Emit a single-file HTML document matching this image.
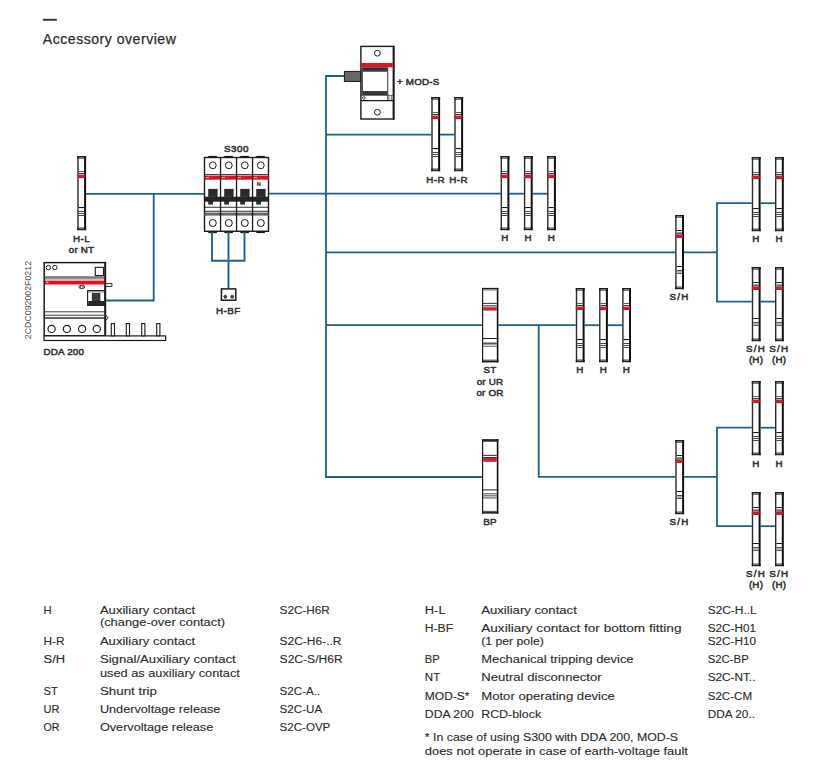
<!DOCTYPE html>
<html><head><meta charset="utf-8"><style>
html,body{margin:0;padding:0;background:#fff;width:816px;height:772px;overflow:hidden}
svg{position:absolute;left:0;top:0;font-family:"Liberation Sans",sans-serif}
</style></head><body>
<svg width="816" height="772" viewBox="0 0 816 772">
<rect x="42.8" y="18.8" width="14" height="1.9" fill="#333"/>
<text x="42.8" y="43.9" font-size="14.1" letter-spacing="0.5" fill="#2d2d2d" stroke="#2d2d2d" stroke-width="0.25">Accessory overview</text>
<text transform="translate(31.3,339.2) rotate(-90)" font-size="8.8" fill="#4a4a4a">2CDC092002F0212</text>
<path d="M85,193.8 L205,193.8" fill="none" stroke="#1f5f8f" stroke-width="1.8" stroke-linejoin="miter" stroke-linecap="butt"/>
<path d="M153.7,193.8 L153.7,300.5 L105,300.5" fill="none" stroke="#1f5f8f" stroke-width="1.8" stroke-linejoin="miter" stroke-linecap="butt"/>
<path d="M268,193.7 L501,193.7" fill="none" stroke="#1f5f8f" stroke-width="1.8" stroke-linejoin="miter" stroke-linecap="butt"/>
<path d="M509,193.7 L524,193.7" fill="none" stroke="#1f5f8f" stroke-width="1.8" stroke-linejoin="miter" stroke-linecap="butt"/>
<path d="M532,193.7 L547,193.7" fill="none" stroke="#1f5f8f" stroke-width="1.8" stroke-linejoin="miter" stroke-linecap="butt"/>
<path d="M344.5,76 L326,76 L326,477 L482.5,477" fill="none" stroke="#1f5f8f" stroke-width="1.8" stroke-linejoin="miter" stroke-linecap="butt"/>
<path d="M326,134.6 L432,134.6" fill="none" stroke="#1f5f8f" stroke-width="1.8" stroke-linejoin="miter" stroke-linecap="butt"/>
<path d="M439,134.6 L455,134.6" fill="none" stroke="#1f5f8f" stroke-width="1.8" stroke-linejoin="miter" stroke-linecap="butt"/>
<path d="M326,252.3 L676,252.3" fill="none" stroke="#1f5f8f" stroke-width="1.8" stroke-linejoin="miter" stroke-linecap="butt"/>
<path d="M683,252.3 L717,252.3" fill="none" stroke="#1f5f8f" stroke-width="1.8" stroke-linejoin="miter" stroke-linecap="butt"/>
<path d="M752.5,203.2 L717,203.2 L717,301.6 L752.5,301.6" fill="none" stroke="#1f5f8f" stroke-width="1.8" stroke-linejoin="miter" stroke-linecap="butt"/>
<path d="M760,203.2 L776,203.2" fill="none" stroke="#1f5f8f" stroke-width="1.8" stroke-linejoin="miter" stroke-linecap="butt"/>
<path d="M760,301.6 L776,301.6" fill="none" stroke="#1f5f8f" stroke-width="1.8" stroke-linejoin="miter" stroke-linecap="butt"/>
<path d="M326,325.2 L482.5,325.2" fill="none" stroke="#1f5f8f" stroke-width="1.8" stroke-linejoin="miter" stroke-linecap="butt"/>
<path d="M497.5,325.2 L576.5,325.2" fill="none" stroke="#1f5f8f" stroke-width="1.8" stroke-linejoin="miter" stroke-linecap="butt"/>
<path d="M584,325.2 L600,325.2" fill="none" stroke="#1f5f8f" stroke-width="1.8" stroke-linejoin="miter" stroke-linecap="butt"/>
<path d="M607,325.2 L623,325.2" fill="none" stroke="#1f5f8f" stroke-width="1.8" stroke-linejoin="miter" stroke-linecap="butt"/>
<path d="M538.7,325.2 L538.7,476.8 L676,476.8" fill="none" stroke="#1f5f8f" stroke-width="1.8" stroke-linejoin="miter" stroke-linecap="butt"/>
<path d="M683,476.8 L717,476.8" fill="none" stroke="#1f5f8f" stroke-width="1.8" stroke-linejoin="miter" stroke-linecap="butt"/>
<path d="M752.5,427.7 L717,427.7 L717,526.2 L752.5,526.2" fill="none" stroke="#1f5f8f" stroke-width="1.8" stroke-linejoin="miter" stroke-linecap="butt"/>
<path d="M760,427.7 L776,427.7" fill="none" stroke="#1f5f8f" stroke-width="1.8" stroke-linejoin="miter" stroke-linecap="butt"/>
<path d="M760,526.2 L776,526.2" fill="none" stroke="#1f5f8f" stroke-width="1.8" stroke-linejoin="miter" stroke-linecap="butt"/>
<g transform="translate(77.3,156)"><rect x="0" y="0" width="8.8" height="74.2" fill="#fff"/><rect x="0" y="0" width="1.4" height="74.2" fill="#2a2a2a"/><rect x="6.800000000000001" y="0" width="2" height="74.2" fill="#111"/><rect x="0" y="0" width="8.8" height="2.6" fill="#1a1a1a"/><rect x="1.4" y="1.1" width="5.4" height="0.9" fill="#8a8a8a"/><rect x="1.4" y="15" width="5.4" height="1" fill="#5a5a5a"/><rect x="1.4" y="17" width="5.4" height="1" fill="#333"/><rect x="0" y="18.6" width="7.800000000000001" height="3.6" fill="#c41c30"/><rect x="1.4" y="51" width="5.4" height="1.1" fill="#151515"/><rect x="1.4" y="55" width="5.4" height="0.95" fill="#3a3a3a"/><rect x="1.4" y="57" width="5.4" height="0.95" fill="#3a3a3a"/><rect x="1.4" y="59" width="5.4" height="0.95" fill="#3a3a3a"/><rect x="0" y="71.60000000000001" width="8.8" height="2.6" fill="#1a1a1a"/><rect x="1.4" y="72.2" width="5.4" height="0.9" fill="#8a8a8a"/></g>
<g transform="translate(431.3,97)"><rect x="0" y="0" width="8.8" height="74.2" fill="#fff"/><rect x="0" y="0" width="1.4" height="74.2" fill="#2a2a2a"/><rect x="6.800000000000001" y="0" width="2" height="74.2" fill="#111"/><rect x="0" y="0" width="8.8" height="2.6" fill="#1a1a1a"/><rect x="1.4" y="1.1" width="5.4" height="0.9" fill="#8a8a8a"/><rect x="1.4" y="15" width="5.4" height="1" fill="#5a5a5a"/><rect x="1.4" y="17" width="5.4" height="1" fill="#333"/><rect x="0" y="18.6" width="7.800000000000001" height="3.6" fill="#c41c30"/><rect x="1.4" y="51" width="5.4" height="1.1" fill="#151515"/><rect x="1.4" y="55" width="5.4" height="0.95" fill="#3a3a3a"/><rect x="1.4" y="57" width="5.4" height="0.95" fill="#3a3a3a"/><rect x="1.4" y="59" width="5.4" height="0.95" fill="#3a3a3a"/><rect x="0" y="71.60000000000001" width="8.8" height="2.6" fill="#1a1a1a"/><rect x="1.4" y="72.2" width="5.4" height="0.9" fill="#8a8a8a"/></g>
<g transform="translate(454.3,97)"><rect x="0" y="0" width="8.8" height="74.2" fill="#fff"/><rect x="0" y="0" width="1.4" height="74.2" fill="#2a2a2a"/><rect x="6.800000000000001" y="0" width="2" height="74.2" fill="#111"/><rect x="0" y="0" width="8.8" height="2.6" fill="#1a1a1a"/><rect x="1.4" y="1.1" width="5.4" height="0.9" fill="#8a8a8a"/><rect x="1.4" y="15" width="5.4" height="1" fill="#5a5a5a"/><rect x="1.4" y="17" width="5.4" height="1" fill="#333"/><rect x="0" y="18.6" width="7.800000000000001" height="3.6" fill="#c41c30"/><rect x="1.4" y="51" width="5.4" height="1.1" fill="#151515"/><rect x="1.4" y="55" width="5.4" height="0.95" fill="#3a3a3a"/><rect x="1.4" y="57" width="5.4" height="0.95" fill="#3a3a3a"/><rect x="1.4" y="59" width="5.4" height="0.95" fill="#3a3a3a"/><rect x="0" y="71.60000000000001" width="8.8" height="2.6" fill="#1a1a1a"/><rect x="1.4" y="72.2" width="5.4" height="0.9" fill="#8a8a8a"/></g>
<g transform="translate(500.6,156)"><rect x="0" y="0" width="8.8" height="74.2" fill="#fff"/><rect x="0" y="0" width="1.4" height="74.2" fill="#2a2a2a"/><rect x="6.800000000000001" y="0" width="2" height="74.2" fill="#111"/><rect x="0" y="0" width="8.8" height="2.6" fill="#1a1a1a"/><rect x="1.4" y="1.1" width="5.4" height="0.9" fill="#8a8a8a"/><rect x="1.4" y="15" width="5.4" height="1" fill="#5a5a5a"/><rect x="1.4" y="17" width="5.4" height="1" fill="#333"/><rect x="0" y="18.6" width="7.800000000000001" height="3.6" fill="#c41c30"/><rect x="1.4" y="51" width="5.4" height="1.1" fill="#151515"/><rect x="1.4" y="55" width="5.4" height="0.95" fill="#3a3a3a"/><rect x="1.4" y="57" width="5.4" height="0.95" fill="#3a3a3a"/><rect x="1.4" y="59" width="5.4" height="0.95" fill="#3a3a3a"/><rect x="0" y="71.60000000000001" width="8.8" height="2.6" fill="#1a1a1a"/><rect x="1.4" y="72.2" width="5.4" height="0.9" fill="#8a8a8a"/></g>
<g transform="translate(523.9,156)"><rect x="0" y="0" width="8.8" height="74.2" fill="#fff"/><rect x="0" y="0" width="1.4" height="74.2" fill="#2a2a2a"/><rect x="6.800000000000001" y="0" width="2" height="74.2" fill="#111"/><rect x="0" y="0" width="8.8" height="2.6" fill="#1a1a1a"/><rect x="1.4" y="1.1" width="5.4" height="0.9" fill="#8a8a8a"/><rect x="1.4" y="15" width="5.4" height="1" fill="#5a5a5a"/><rect x="1.4" y="17" width="5.4" height="1" fill="#333"/><rect x="0" y="18.6" width="7.800000000000001" height="3.6" fill="#c41c30"/><rect x="1.4" y="51" width="5.4" height="1.1" fill="#151515"/><rect x="1.4" y="55" width="5.4" height="0.95" fill="#3a3a3a"/><rect x="1.4" y="57" width="5.4" height="0.95" fill="#3a3a3a"/><rect x="1.4" y="59" width="5.4" height="0.95" fill="#3a3a3a"/><rect x="0" y="71.60000000000001" width="8.8" height="2.6" fill="#1a1a1a"/><rect x="1.4" y="72.2" width="5.4" height="0.9" fill="#8a8a8a"/></g>
<g transform="translate(547.1,156)"><rect x="0" y="0" width="8.8" height="74.2" fill="#fff"/><rect x="0" y="0" width="1.4" height="74.2" fill="#2a2a2a"/><rect x="6.800000000000001" y="0" width="2" height="74.2" fill="#111"/><rect x="0" y="0" width="8.8" height="2.6" fill="#1a1a1a"/><rect x="1.4" y="1.1" width="5.4" height="0.9" fill="#8a8a8a"/><rect x="1.4" y="15" width="5.4" height="1" fill="#5a5a5a"/><rect x="1.4" y="17" width="5.4" height="1" fill="#333"/><rect x="0" y="18.6" width="7.800000000000001" height="3.6" fill="#c41c30"/><rect x="1.4" y="51" width="5.4" height="1.1" fill="#151515"/><rect x="1.4" y="55" width="5.4" height="0.95" fill="#3a3a3a"/><rect x="1.4" y="57" width="5.4" height="0.95" fill="#3a3a3a"/><rect x="1.4" y="59" width="5.4" height="0.95" fill="#3a3a3a"/><rect x="0" y="71.60000000000001" width="8.8" height="2.6" fill="#1a1a1a"/><rect x="1.4" y="72.2" width="5.4" height="0.9" fill="#8a8a8a"/></g>
<g transform="translate(675.2,215)"><rect x="0" y="0" width="8.8" height="74.2" fill="#fff"/><rect x="0" y="0" width="1.4" height="74.2" fill="#2a2a2a"/><rect x="6.800000000000001" y="0" width="2" height="74.2" fill="#111"/><rect x="0" y="0" width="8.8" height="2.6" fill="#1a1a1a"/><rect x="1.4" y="1.1" width="5.4" height="0.9" fill="#8a8a8a"/><rect x="1.4" y="15" width="5.4" height="1" fill="#1a1a1a"/><rect x="1.4" y="17" width="5.4" height="1" fill="#999"/><rect x="1.4" y="18" width="5.4" height="1.2" fill="#666"/><rect x="0" y="19.4" width="7.800000000000001" height="3.6" fill="#c41c30"/><rect x="1.4" y="51" width="5.4" height="1.0" fill="#151515"/><rect x="1.4" y="55" width="5.4" height="1.4" fill="#4a4a4a"/><rect x="1.4" y="57.6" width="5.4" height="1.4" fill="#5a5a5a"/><rect x="0" y="71.60000000000001" width="8.8" height="2.6" fill="#1a1a1a"/><rect x="1.4" y="72.2" width="5.4" height="0.9" fill="#8a8a8a"/></g>
<g transform="translate(751.8,157)"><rect x="0" y="0" width="8.8" height="74.2" fill="#fff"/><rect x="0" y="0" width="1.4" height="74.2" fill="#2a2a2a"/><rect x="6.800000000000001" y="0" width="2" height="74.2" fill="#111"/><rect x="0" y="0" width="8.8" height="2.6" fill="#1a1a1a"/><rect x="1.4" y="1.1" width="5.4" height="0.9" fill="#8a8a8a"/><rect x="1.4" y="15" width="5.4" height="1" fill="#5a5a5a"/><rect x="1.4" y="17" width="5.4" height="1" fill="#333"/><rect x="0" y="18.6" width="7.800000000000001" height="3.6" fill="#c41c30"/><rect x="1.4" y="51" width="5.4" height="1.1" fill="#151515"/><rect x="1.4" y="55" width="5.4" height="0.95" fill="#3a3a3a"/><rect x="1.4" y="57" width="5.4" height="0.95" fill="#3a3a3a"/><rect x="1.4" y="59" width="5.4" height="0.95" fill="#3a3a3a"/><rect x="0" y="71.60000000000001" width="8.8" height="2.6" fill="#1a1a1a"/><rect x="1.4" y="72.2" width="5.4" height="0.9" fill="#8a8a8a"/></g>
<g transform="translate(751.8,267)"><rect x="0" y="0" width="8.8" height="74.2" fill="#fff"/><rect x="0" y="0" width="1.4" height="74.2" fill="#2a2a2a"/><rect x="6.800000000000001" y="0" width="2" height="74.2" fill="#111"/><rect x="0" y="0" width="8.8" height="2.6" fill="#1a1a1a"/><rect x="1.4" y="1.1" width="5.4" height="0.9" fill="#8a8a8a"/><rect x="1.4" y="15" width="5.4" height="1" fill="#1a1a1a"/><rect x="1.4" y="17" width="5.4" height="1" fill="#999"/><rect x="1.4" y="18" width="5.4" height="1.2" fill="#666"/><rect x="0" y="19.4" width="7.800000000000001" height="3.6" fill="#c41c30"/><rect x="1.4" y="51" width="5.4" height="1.0" fill="#151515"/><rect x="1.4" y="55" width="5.4" height="1.4" fill="#4a4a4a"/><rect x="1.4" y="57.6" width="5.4" height="1.4" fill="#5a5a5a"/><rect x="0" y="71.60000000000001" width="8.8" height="2.6" fill="#1a1a1a"/><rect x="1.4" y="72.2" width="5.4" height="0.9" fill="#8a8a8a"/></g>
<g transform="translate(751.8,381)"><rect x="0" y="0" width="8.8" height="74.2" fill="#fff"/><rect x="0" y="0" width="1.4" height="74.2" fill="#2a2a2a"/><rect x="6.800000000000001" y="0" width="2" height="74.2" fill="#111"/><rect x="0" y="0" width="8.8" height="2.6" fill="#1a1a1a"/><rect x="1.4" y="1.1" width="5.4" height="0.9" fill="#8a8a8a"/><rect x="1.4" y="15" width="5.4" height="1" fill="#5a5a5a"/><rect x="1.4" y="17" width="5.4" height="1" fill="#333"/><rect x="0" y="18.6" width="7.800000000000001" height="3.6" fill="#c41c30"/><rect x="1.4" y="51" width="5.4" height="1.1" fill="#151515"/><rect x="1.4" y="55" width="5.4" height="0.95" fill="#3a3a3a"/><rect x="1.4" y="57" width="5.4" height="0.95" fill="#3a3a3a"/><rect x="1.4" y="59" width="5.4" height="0.95" fill="#3a3a3a"/><rect x="0" y="71.60000000000001" width="8.8" height="2.6" fill="#1a1a1a"/><rect x="1.4" y="72.2" width="5.4" height="0.9" fill="#8a8a8a"/></g>
<g transform="translate(751.8,492)"><rect x="0" y="0" width="8.8" height="74.2" fill="#fff"/><rect x="0" y="0" width="1.4" height="74.2" fill="#2a2a2a"/><rect x="6.800000000000001" y="0" width="2" height="74.2" fill="#111"/><rect x="0" y="0" width="8.8" height="2.6" fill="#1a1a1a"/><rect x="1.4" y="1.1" width="5.4" height="0.9" fill="#8a8a8a"/><rect x="1.4" y="15" width="5.4" height="1" fill="#1a1a1a"/><rect x="1.4" y="17" width="5.4" height="1" fill="#999"/><rect x="1.4" y="18" width="5.4" height="1.2" fill="#666"/><rect x="0" y="19.4" width="7.800000000000001" height="3.6" fill="#c41c30"/><rect x="1.4" y="51" width="5.4" height="1.0" fill="#151515"/><rect x="1.4" y="55" width="5.4" height="1.4" fill="#4a4a4a"/><rect x="1.4" y="57.6" width="5.4" height="1.4" fill="#5a5a5a"/><rect x="0" y="71.60000000000001" width="8.8" height="2.6" fill="#1a1a1a"/><rect x="1.4" y="72.2" width="5.4" height="0.9" fill="#8a8a8a"/></g>
<g transform="translate(775.0,157)"><rect x="0" y="0" width="8.8" height="74.2" fill="#fff"/><rect x="0" y="0" width="1.4" height="74.2" fill="#2a2a2a"/><rect x="6.800000000000001" y="0" width="2" height="74.2" fill="#111"/><rect x="0" y="0" width="8.8" height="2.6" fill="#1a1a1a"/><rect x="1.4" y="1.1" width="5.4" height="0.9" fill="#8a8a8a"/><rect x="1.4" y="15" width="5.4" height="1" fill="#5a5a5a"/><rect x="1.4" y="17" width="5.4" height="1" fill="#333"/><rect x="0" y="18.6" width="7.800000000000001" height="3.6" fill="#c41c30"/><rect x="1.4" y="51" width="5.4" height="1.1" fill="#151515"/><rect x="1.4" y="55" width="5.4" height="0.95" fill="#3a3a3a"/><rect x="1.4" y="57" width="5.4" height="0.95" fill="#3a3a3a"/><rect x="1.4" y="59" width="5.4" height="0.95" fill="#3a3a3a"/><rect x="0" y="71.60000000000001" width="8.8" height="2.6" fill="#1a1a1a"/><rect x="1.4" y="72.2" width="5.4" height="0.9" fill="#8a8a8a"/></g>
<g transform="translate(775.0,267)"><rect x="0" y="0" width="8.8" height="74.2" fill="#fff"/><rect x="0" y="0" width="1.4" height="74.2" fill="#2a2a2a"/><rect x="6.800000000000001" y="0" width="2" height="74.2" fill="#111"/><rect x="0" y="0" width="8.8" height="2.6" fill="#1a1a1a"/><rect x="1.4" y="1.1" width="5.4" height="0.9" fill="#8a8a8a"/><rect x="1.4" y="15" width="5.4" height="1" fill="#1a1a1a"/><rect x="1.4" y="17" width="5.4" height="1" fill="#999"/><rect x="1.4" y="18" width="5.4" height="1.2" fill="#666"/><rect x="0" y="19.4" width="7.800000000000001" height="3.6" fill="#c41c30"/><rect x="1.4" y="51" width="5.4" height="1.0" fill="#151515"/><rect x="1.4" y="55" width="5.4" height="1.4" fill="#4a4a4a"/><rect x="1.4" y="57.6" width="5.4" height="1.4" fill="#5a5a5a"/><rect x="0" y="71.60000000000001" width="8.8" height="2.6" fill="#1a1a1a"/><rect x="1.4" y="72.2" width="5.4" height="0.9" fill="#8a8a8a"/></g>
<g transform="translate(775.0,381)"><rect x="0" y="0" width="8.8" height="74.2" fill="#fff"/><rect x="0" y="0" width="1.4" height="74.2" fill="#2a2a2a"/><rect x="6.800000000000001" y="0" width="2" height="74.2" fill="#111"/><rect x="0" y="0" width="8.8" height="2.6" fill="#1a1a1a"/><rect x="1.4" y="1.1" width="5.4" height="0.9" fill="#8a8a8a"/><rect x="1.4" y="15" width="5.4" height="1" fill="#5a5a5a"/><rect x="1.4" y="17" width="5.4" height="1" fill="#333"/><rect x="0" y="18.6" width="7.800000000000001" height="3.6" fill="#c41c30"/><rect x="1.4" y="51" width="5.4" height="1.1" fill="#151515"/><rect x="1.4" y="55" width="5.4" height="0.95" fill="#3a3a3a"/><rect x="1.4" y="57" width="5.4" height="0.95" fill="#3a3a3a"/><rect x="1.4" y="59" width="5.4" height="0.95" fill="#3a3a3a"/><rect x="0" y="71.60000000000001" width="8.8" height="2.6" fill="#1a1a1a"/><rect x="1.4" y="72.2" width="5.4" height="0.9" fill="#8a8a8a"/></g>
<g transform="translate(775.0,492)"><rect x="0" y="0" width="8.8" height="74.2" fill="#fff"/><rect x="0" y="0" width="1.4" height="74.2" fill="#2a2a2a"/><rect x="6.800000000000001" y="0" width="2" height="74.2" fill="#111"/><rect x="0" y="0" width="8.8" height="2.6" fill="#1a1a1a"/><rect x="1.4" y="1.1" width="5.4" height="0.9" fill="#8a8a8a"/><rect x="1.4" y="15" width="5.4" height="1" fill="#1a1a1a"/><rect x="1.4" y="17" width="5.4" height="1" fill="#999"/><rect x="1.4" y="18" width="5.4" height="1.2" fill="#666"/><rect x="0" y="19.4" width="7.800000000000001" height="3.6" fill="#c41c30"/><rect x="1.4" y="51" width="5.4" height="1.0" fill="#151515"/><rect x="1.4" y="55" width="5.4" height="1.4" fill="#4a4a4a"/><rect x="1.4" y="57.6" width="5.4" height="1.4" fill="#5a5a5a"/><rect x="0" y="71.60000000000001" width="8.8" height="2.6" fill="#1a1a1a"/><rect x="1.4" y="72.2" width="5.4" height="0.9" fill="#8a8a8a"/></g>
<g transform="translate(575.8,288)"><rect x="0" y="0" width="8.8" height="74.2" fill="#fff"/><rect x="0" y="0" width="1.4" height="74.2" fill="#2a2a2a"/><rect x="6.800000000000001" y="0" width="2" height="74.2" fill="#111"/><rect x="0" y="0" width="8.8" height="2.6" fill="#1a1a1a"/><rect x="1.4" y="1.1" width="5.4" height="0.9" fill="#8a8a8a"/><rect x="1.4" y="15" width="5.4" height="1" fill="#5a5a5a"/><rect x="1.4" y="17" width="5.4" height="1" fill="#333"/><rect x="0" y="18.6" width="7.800000000000001" height="3.6" fill="#c41c30"/><rect x="1.4" y="51" width="5.4" height="1.1" fill="#151515"/><rect x="1.4" y="55" width="5.4" height="0.95" fill="#3a3a3a"/><rect x="1.4" y="57" width="5.4" height="0.95" fill="#3a3a3a"/><rect x="1.4" y="59" width="5.4" height="0.95" fill="#3a3a3a"/><rect x="0" y="71.60000000000001" width="8.8" height="2.6" fill="#1a1a1a"/><rect x="1.4" y="72.2" width="5.4" height="0.9" fill="#8a8a8a"/></g>
<g transform="translate(599.1,288)"><rect x="0" y="0" width="8.8" height="74.2" fill="#fff"/><rect x="0" y="0" width="1.4" height="74.2" fill="#2a2a2a"/><rect x="6.800000000000001" y="0" width="2" height="74.2" fill="#111"/><rect x="0" y="0" width="8.8" height="2.6" fill="#1a1a1a"/><rect x="1.4" y="1.1" width="5.4" height="0.9" fill="#8a8a8a"/><rect x="1.4" y="15" width="5.4" height="1" fill="#5a5a5a"/><rect x="1.4" y="17" width="5.4" height="1" fill="#333"/><rect x="0" y="18.6" width="7.800000000000001" height="3.6" fill="#c41c30"/><rect x="1.4" y="51" width="5.4" height="1.1" fill="#151515"/><rect x="1.4" y="55" width="5.4" height="0.95" fill="#3a3a3a"/><rect x="1.4" y="57" width="5.4" height="0.95" fill="#3a3a3a"/><rect x="1.4" y="59" width="5.4" height="0.95" fill="#3a3a3a"/><rect x="0" y="71.60000000000001" width="8.8" height="2.6" fill="#1a1a1a"/><rect x="1.4" y="72.2" width="5.4" height="0.9" fill="#8a8a8a"/></g>
<g transform="translate(622.2,288)"><rect x="0" y="0" width="8.8" height="74.2" fill="#fff"/><rect x="0" y="0" width="1.4" height="74.2" fill="#2a2a2a"/><rect x="6.800000000000001" y="0" width="2" height="74.2" fill="#111"/><rect x="0" y="0" width="8.8" height="2.6" fill="#1a1a1a"/><rect x="1.4" y="1.1" width="5.4" height="0.9" fill="#8a8a8a"/><rect x="1.4" y="15" width="5.4" height="1" fill="#5a5a5a"/><rect x="1.4" y="17" width="5.4" height="1" fill="#333"/><rect x="0" y="18.6" width="7.800000000000001" height="3.6" fill="#c41c30"/><rect x="1.4" y="51" width="5.4" height="1.1" fill="#151515"/><rect x="1.4" y="55" width="5.4" height="0.95" fill="#3a3a3a"/><rect x="1.4" y="57" width="5.4" height="0.95" fill="#3a3a3a"/><rect x="1.4" y="59" width="5.4" height="0.95" fill="#3a3a3a"/><rect x="0" y="71.60000000000001" width="8.8" height="2.6" fill="#1a1a1a"/><rect x="1.4" y="72.2" width="5.4" height="0.9" fill="#8a8a8a"/></g>
<g transform="translate(675.3,440)"><rect x="0" y="0" width="8.8" height="74.2" fill="#fff"/><rect x="0" y="0" width="1.4" height="74.2" fill="#2a2a2a"/><rect x="6.800000000000001" y="0" width="2" height="74.2" fill="#111"/><rect x="0" y="0" width="8.8" height="2.6" fill="#1a1a1a"/><rect x="1.4" y="1.1" width="5.4" height="0.9" fill="#8a8a8a"/><rect x="1.4" y="15" width="5.4" height="1" fill="#1a1a1a"/><rect x="1.4" y="17" width="5.4" height="1" fill="#999"/><rect x="1.4" y="18" width="5.4" height="1.2" fill="#666"/><rect x="0" y="19.4" width="7.800000000000001" height="3.6" fill="#c41c30"/><rect x="1.4" y="51" width="5.4" height="1.0" fill="#151515"/><rect x="1.4" y="55" width="5.4" height="1.4" fill="#4a4a4a"/><rect x="1.4" y="57.6" width="5.4" height="1.4" fill="#5a5a5a"/><rect x="0" y="71.60000000000001" width="8.8" height="2.6" fill="#1a1a1a"/><rect x="1.4" y="72.2" width="5.4" height="0.9" fill="#8a8a8a"/></g>
<g transform="translate(482,287.9)"><rect x="0" y="0" width="16.4" height="74.5" fill="#fff"/><rect x="0" y="0" width="1.2" height="74.5" fill="#1a1a1a"/><rect x="14.799999999999999" y="0" width="1.6" height="74.5" fill="#111"/><rect x="0" y="0" width="16.4" height="1.2" fill="#1a1a1a"/><rect x="1.2" y="1.2" width="13.599999999999998" height="1.5" fill="#8a8a8a"/><rect x="0" y="15" width="16.4" height="0.9" fill="#1a1a1a"/><rect x="1.2" y="17.2" width="13.599999999999998" height="0.7" fill="#222"/><rect x="1.2" y="17.9" width="13.599999999999998" height="1.0" fill="#999"/><rect x="1.2" y="19.5" width="13.599999999999998" height="0.6" fill="#6a1018"/><rect x="1.2" y="20.0" width="13.599999999999998" height="2.7" fill="#d81e2c"/><rect x="0" y="50.1" width="16.4" height="1.0" fill="#1a1a1a"/><rect x="1.2" y="54.6" width="13.599999999999998" height="2.0" fill="#555"/><rect x="1.2" y="57.9" width="13.599999999999998" height="0.8" fill="#333"/><rect x="0" y="71.8" width="16.4" height="2.7" fill="#1a1a1a"/><rect x="1.2" y="72.2" width="13.599999999999998" height="0.9" fill="#777"/></g>
<g transform="translate(482,439.1)"><rect x="0" y="0" width="16.4" height="74.5" fill="#fff"/><rect x="0" y="0" width="1.2" height="74.5" fill="#1a1a1a"/><rect x="14.799999999999999" y="0" width="1.6" height="74.5" fill="#111"/><rect x="0" y="0" width="16.4" height="2.6" fill="#262626"/><rect x="1.2" y="15.8" width="13.599999999999998" height="0.9" fill="#1a1a1a"/><rect x="1.2" y="17.9" width="13.599999999999998" height="1.8" fill="#7a1420"/><rect x="1.2" y="19.7" width="13.599999999999998" height="3.0" fill="#d81e2c"/><rect x="0" y="50.3" width="16.4" height="1.0" fill="#1a1a1a"/><rect x="1.2" y="54.3" width="13.599999999999998" height="0.9" fill="#333"/><rect x="1.2" y="56.3" width="13.599999999999998" height="0.9" fill="#333"/><rect x="1.2" y="58.4" width="13.599999999999998" height="0.9" fill="#333"/><rect x="0" y="71.8" width="16.4" height="2.7" fill="#1a1a1a"/><rect x="1.2" y="72.2" width="13.599999999999998" height="0.9" fill="#777"/></g>
<text transform="translate(81.5,241.7) scale(0.99,1)" font-size="9.9" font-weight="400" text-anchor="middle" fill="#333333" stroke="#333333" stroke-width="0.55" letter-spacing="0.45">H-L</text>
<text transform="translate(81.5,253.4) scale(0.99,1)" font-size="9.9" font-weight="400" text-anchor="middle" fill="#333333" stroke="#333333" stroke-width="0.55" letter-spacing="0.2">or NT</text>
<text transform="translate(435.6,182.7) scale(0.99,1)" font-size="9.9" font-weight="400" text-anchor="middle" fill="#333333" stroke="#333333" stroke-width="0.55" letter-spacing="0.45">H-R</text>
<text transform="translate(458.6,182.7) scale(0.99,1)" font-size="9.9" font-weight="400" text-anchor="middle" fill="#333333" stroke="#333333" stroke-width="0.55" letter-spacing="0.45">H-R</text>
<text transform="translate(505,241.4) scale(0.99,1)" font-size="9.9" font-weight="400" text-anchor="middle" fill="#333333" stroke="#333333" stroke-width="0.55" letter-spacing="0.2">H</text>
<text transform="translate(528.2,241.4) scale(0.99,1)" font-size="9.9" font-weight="400" text-anchor="middle" fill="#333333" stroke="#333333" stroke-width="0.55" letter-spacing="0.2">H</text>
<text transform="translate(551.4,241.4) scale(0.99,1)" font-size="9.9" font-weight="400" text-anchor="middle" fill="#333333" stroke="#333333" stroke-width="0.55" letter-spacing="0.2">H</text>
<text transform="translate(679.5,299.6) scale(0.99,1)" font-size="9.9" font-weight="400" text-anchor="middle" fill="#333333" stroke="#333333" stroke-width="0.55" letter-spacing="1.2">S/H</text>
<text transform="translate(756,241.6) scale(0.99,1)" font-size="9.9" font-weight="400" text-anchor="middle" fill="#333333" stroke="#333333" stroke-width="0.55" letter-spacing="0.2">H</text>
<text transform="translate(756,351.9) scale(0.99,1)" font-size="9.9" font-weight="400" text-anchor="middle" fill="#333333" stroke="#333333" stroke-width="0.55" letter-spacing="1.2">S/H</text>
<text transform="translate(756,362.6) scale(0.99,1)" font-size="9.9" font-weight="400" text-anchor="middle" fill="#333333" stroke="#333333" stroke-width="0.55" letter-spacing="0.2">(H)</text>
<text transform="translate(756,466.7) scale(0.99,1)" font-size="9.9" font-weight="400" text-anchor="middle" fill="#333333" stroke="#333333" stroke-width="0.55" letter-spacing="0.2">H</text>
<text transform="translate(756,577) scale(0.99,1)" font-size="9.9" font-weight="400" text-anchor="middle" fill="#333333" stroke="#333333" stroke-width="0.55" letter-spacing="1.2">S/H</text>
<text transform="translate(756,587.8) scale(0.99,1)" font-size="9.9" font-weight="400" text-anchor="middle" fill="#333333" stroke="#333333" stroke-width="0.55" letter-spacing="0.2">(H)</text>
<text transform="translate(779.2,241.6) scale(0.99,1)" font-size="9.9" font-weight="400" text-anchor="middle" fill="#333333" stroke="#333333" stroke-width="0.55" letter-spacing="0.2">H</text>
<text transform="translate(779.2,351.9) scale(0.99,1)" font-size="9.9" font-weight="400" text-anchor="middle" fill="#333333" stroke="#333333" stroke-width="0.55" letter-spacing="1.2">S/H</text>
<text transform="translate(779.2,362.6) scale(0.99,1)" font-size="9.9" font-weight="400" text-anchor="middle" fill="#333333" stroke="#333333" stroke-width="0.55" letter-spacing="0.2">(H)</text>
<text transform="translate(779.2,466.7) scale(0.99,1)" font-size="9.9" font-weight="400" text-anchor="middle" fill="#333333" stroke="#333333" stroke-width="0.55" letter-spacing="0.2">H</text>
<text transform="translate(779.2,577) scale(0.99,1)" font-size="9.9" font-weight="400" text-anchor="middle" fill="#333333" stroke="#333333" stroke-width="0.55" letter-spacing="1.2">S/H</text>
<text transform="translate(779.2,587.8) scale(0.99,1)" font-size="9.9" font-weight="400" text-anchor="middle" fill="#333333" stroke="#333333" stroke-width="0.55" letter-spacing="0.2">(H)</text>
<text transform="translate(580,372.6) scale(0.99,1)" font-size="9.9" font-weight="400" text-anchor="middle" fill="#333333" stroke="#333333" stroke-width="0.55" letter-spacing="0.2">H</text>
<text transform="translate(603.3,372.6) scale(0.99,1)" font-size="9.9" font-weight="400" text-anchor="middle" fill="#333333" stroke="#333333" stroke-width="0.55" letter-spacing="0.2">H</text>
<text transform="translate(626.4,372.6) scale(0.99,1)" font-size="9.9" font-weight="400" text-anchor="middle" fill="#333333" stroke="#333333" stroke-width="0.55" letter-spacing="0.2">H</text>
<text transform="translate(490,373) scale(0.99,1)" font-size="9.9" font-weight="400" text-anchor="middle" fill="#333333" stroke="#333333" stroke-width="0.55" letter-spacing="0.2">ST</text>
<text transform="translate(490,384.6) scale(0.99,1)" font-size="9.9" font-weight="400" text-anchor="middle" fill="#333333" stroke="#333333" stroke-width="0.55" letter-spacing="0.2">or UR</text>
<text transform="translate(490,396.4) scale(0.99,1)" font-size="9.9" font-weight="400" text-anchor="middle" fill="#333333" stroke="#333333" stroke-width="0.55" letter-spacing="0.2">or OR</text>
<text transform="translate(490,524.6) scale(0.99,1)" font-size="9.9" font-weight="400" text-anchor="middle" fill="#333333" stroke="#333333" stroke-width="0.55" letter-spacing="0.2">BP</text>
<text transform="translate(679.5,524.6) scale(0.99,1)" font-size="9.9" font-weight="400" text-anchor="middle" fill="#333333" stroke="#333333" stroke-width="0.55" letter-spacing="1.2">S/H</text>
<text transform="translate(236.4,151.7) scale(0.99,1)" font-size="9.9" font-weight="400" text-anchor="middle" fill="#333333" stroke="#333333" stroke-width="0.55" letter-spacing="0.5">S300</text>
<text transform="translate(228.4,313.5) scale(0.99,1)" font-size="9.9" font-weight="400" text-anchor="middle" fill="#333333" stroke="#333333" stroke-width="0.55" letter-spacing="0.45">H-BF</text>
<text transform="translate(43.5,355.2) scale(0.99,1)" font-size="9.9" font-weight="400" text-anchor="start" fill="#333333" stroke="#333333" stroke-width="0.55" letter-spacing="0.2">DDA 200</text>
<text transform="translate(397,84.9) scale(0.99,1)" font-size="9.9" font-weight="400" text-anchor="start" fill="#333333" stroke="#333333" stroke-width="0.55" letter-spacing="0.2">+ MOD-S</text>
<g transform="translate(204.5,157.5)"><rect x="0" y="0" width="64" height="73.8" fill="#fff" stroke="#1a1a1a" stroke-width="1.4"/><rect x="3.8" y="-1.6" width="8.6" height="2.0" fill="#1a1a1a"/><rect x="3.8" y="73.4" width="8.6" height="2.2" fill="#1a1a1a"/><circle cx="8.3" cy="7.8" r="3.4" fill="none" stroke="#1a1a1a" stroke-width="1"/><circle cx="8.3" cy="65.5" r="3.5" fill="none" stroke="#1a1a1a" stroke-width="1"/><rect x="3.7" y="31.4" width="9.4" height="8" fill="#2a2a2a"/><rect x="3.7" y="43.6" width="4.8" height="3.4" fill="#23362b"/><rect x="19.8" y="-1.6" width="8.6" height="2.0" fill="#1a1a1a"/><rect x="19.8" y="73.4" width="8.6" height="2.2" fill="#1a1a1a"/><circle cx="24.3" cy="7.8" r="3.4" fill="none" stroke="#1a1a1a" stroke-width="1"/><circle cx="24.3" cy="65.5" r="3.5" fill="none" stroke="#1a1a1a" stroke-width="1"/><rect x="19.7" y="31.4" width="9.4" height="8" fill="#2a2a2a"/><rect x="19.7" y="43.6" width="4.8" height="3.4" fill="#23362b"/><rect x="35.8" y="-1.6" width="8.6" height="2.0" fill="#1a1a1a"/><rect x="35.8" y="73.4" width="8.6" height="2.2" fill="#1a1a1a"/><circle cx="40.3" cy="7.8" r="3.4" fill="none" stroke="#1a1a1a" stroke-width="1"/><circle cx="40.3" cy="65.5" r="3.5" fill="none" stroke="#1a1a1a" stroke-width="1"/><rect x="35.7" y="31.4" width="9.4" height="8" fill="#2a2a2a"/><rect x="35.7" y="43.6" width="4.8" height="3.4" fill="#23362b"/><rect x="51.8" y="-1.6" width="8.6" height="2.0" fill="#1a1a1a"/><rect x="51.8" y="73.4" width="8.6" height="2.2" fill="#1a1a1a"/><circle cx="56.3" cy="7.8" r="3.4" fill="none" stroke="#1a1a1a" stroke-width="1"/><circle cx="56.3" cy="65.5" r="3.5" fill="none" stroke="#1a1a1a" stroke-width="1"/><rect x="51.7" y="31.4" width="9.4" height="8" fill="#2a2a2a"/><rect x="51.7" y="43.6" width="4.8" height="3.4" fill="#23362b"/><rect x="0" y="16.6" width="64" height="1.1" fill="#333"/><rect x="0" y="18.2" width="64" height="4.0" fill="#dc1422"/><rect x="1.5" y="19.6" width="3" height="1" fill="#f3b0b0"/><rect x="17.5" y="19.6" width="3" height="1" fill="#f3b0b0"/><rect x="33.5" y="19.6" width="3" height="1" fill="#f3b0b0"/><rect x="49.5" y="19.6" width="3" height="1" fill="#f3b0b0"/><rect x="0" y="39.2" width="64" height="5" fill="#262626"/><rect x="0" y="49.3" width="64" height="0.9" fill="#1a1a1a"/><rect x="0" y="53.3" width="64" height="0.9" fill="#1a1a1a"/><rect x="0" y="55.1" width="64" height="3" fill="#666"/><rect x="15.4" y="0" width="1.3" height="73.8" fill="#1a1a1a"/><rect x="31.4" y="0" width="1.3" height="73.8" fill="#1a1a1a"/><rect x="47.4" y="0" width="1.3" height="73.8" fill="#1a1a1a"/><text x="54.2" y="28" font-size="5.6" font-weight="700" text-anchor="middle" fill="#333" stroke="#333" stroke-width="0.2">N</text></g><path d="M212,232 L212,260.7 L244.5,260.7 L244.5,232 M228.5,232 L228.5,288.5" fill="none" stroke="#1f5f8f" stroke-width="1.9"/><rect x="221.4" y="288.9" width="14.4" height="11.3" fill="#fff" stroke="#1a1a1a" stroke-width="1.5"/><circle cx="225.3" cy="296.7" r="1.5" fill="#555" stroke="#111" stroke-width="0.7"/><circle cx="232.2" cy="296.7" r="1.5" fill="#555" stroke="#111" stroke-width="0.7"/>
<rect x="344.4" y="71.4" width="16.5" height="10" fill="#666" stroke="#1a1a1a" stroke-width="1"/><rect x="360.9" y="46.4" width="32.8" height="72.6" fill="#fff" stroke="#1a1a1a" stroke-width="1.4"/><rect x="392.6" y="45.8" width="1.9" height="73.8" fill="#1a1a1a"/><circle cx="377.4" cy="53.2" r="2.9" fill="none" stroke="#1a1a1a" stroke-width="1"/><circle cx="377.4" cy="112.2" r="2.9" fill="none" stroke="#1a1a1a" stroke-width="1"/><rect x="360.6" y="63" width="32.2" height="4.4" fill="#dc1422"/><rect x="361.4" y="67.4" width="1.4" height="28" fill="#333"/><rect x="362.8" y="67.4" width="24.6" height="4.3" fill="#2e2e2e"/><rect x="362.8" y="91.1" width="24.6" height="3.9" fill="#2e2e2e"/><rect x="364" y="69.4" width="0.6" height="1.8" fill="#505050"/><rect x="364" y="92.2" width="0.6" height="1.8" fill="#505050"/><rect x="366" y="69.4" width="0.6" height="1.8" fill="#505050"/><rect x="366" y="92.2" width="0.6" height="1.8" fill="#505050"/><rect x="368" y="69.4" width="0.6" height="1.8" fill="#505050"/><rect x="368" y="92.2" width="0.6" height="1.8" fill="#505050"/><rect x="370" y="69.4" width="0.6" height="1.8" fill="#505050"/><rect x="370" y="92.2" width="0.6" height="1.8" fill="#505050"/><rect x="372" y="69.4" width="0.6" height="1.8" fill="#505050"/><rect x="372" y="92.2" width="0.6" height="1.8" fill="#505050"/><rect x="374" y="69.4" width="0.6" height="1.8" fill="#505050"/><rect x="374" y="92.2" width="0.6" height="1.8" fill="#505050"/><rect x="376" y="69.4" width="0.6" height="1.8" fill="#505050"/><rect x="376" y="92.2" width="0.6" height="1.8" fill="#505050"/><rect x="378" y="69.4" width="0.6" height="1.8" fill="#505050"/><rect x="378" y="92.2" width="0.6" height="1.8" fill="#505050"/><rect x="380" y="69.4" width="0.6" height="1.8" fill="#505050"/><rect x="380" y="92.2" width="0.6" height="1.8" fill="#505050"/><rect x="382" y="69.4" width="0.6" height="1.8" fill="#505050"/><rect x="382" y="92.2" width="0.6" height="1.8" fill="#505050"/><rect x="384" y="69.4" width="0.6" height="1.8" fill="#505050"/><rect x="384" y="92.2" width="0.6" height="1.8" fill="#505050"/><rect x="386" y="69.4" width="0.6" height="1.8" fill="#505050"/><rect x="386" y="92.2" width="0.6" height="1.8" fill="#505050"/><rect x="387.3" y="67.4" width="0.9" height="33.3" fill="#222"/><line x1="360.9" y1="95.4" x2="393" y2="95.4" stroke="#444" stroke-width="0.8"/><line x1="360.9" y1="100.7" x2="393" y2="100.7" stroke="#1a1a1a" stroke-width="1.2"/><circle cx="363.8" cy="97.9" r="1.3" fill="none" stroke="#222" stroke-width="0.8"/><line x1="389" y1="95.4" x2="389" y2="100.6" stroke="#444" stroke-width="0.7"/><line x1="391.4" y1="95.4" x2="391.4" y2="100.6" stroke="#444" stroke-width="0.7"/>
<rect x="44.2" y="262.6" width="61" height="73.2" fill="#fff" stroke="#1a1a1a" stroke-width="1.5"/><rect x="44" y="335.9" width="121.6" height="4.6" fill="#fff" stroke="#1a1a1a" stroke-width="1.2"/><rect x="111.30000000000001" y="323.6" width="3.2" height="12.2" fill="#fff" stroke="#1a1a1a" stroke-width="1.1"/><rect x="126.30000000000001" y="323.6" width="3.2" height="12.2" fill="#fff" stroke="#1a1a1a" stroke-width="1.1"/><rect x="141.70000000000002" y="323.6" width="3.2" height="12.2" fill="#fff" stroke="#1a1a1a" stroke-width="1.1"/><rect x="156.70000000000002" y="323.6" width="3.2" height="12.2" fill="#fff" stroke="#1a1a1a" stroke-width="1.1"/><circle cx="48.4" cy="267.6" r="2.2" fill="none" stroke="#1a1a1a" stroke-width="1"/><circle cx="54.9" cy="267.6" r="2.2" fill="none" stroke="#1a1a1a" stroke-width="1"/><rect x="95.3" y="267.4" width="8.2" height="8.2" fill="#fff" stroke="#1a1a1a" stroke-width="1.1"/><rect x="45" y="276.4" width="60" height="1.4" fill="#555"/><rect x="45" y="278.5" width="60" height="0.8" fill="#333"/><rect x="45" y="280.6" width="60" height="3.9" fill="#dc1422"/><rect x="46" y="281.8" width="2.5" height="1.2" fill="#f0a0a0"/><rect x="105.3" y="283.6" width="6.6" height="2.8" fill="#fff" stroke="#1a1a1a" stroke-width="0.9"/><ellipse cx="81.8" cy="286.9" rx="3" ry="1.7" fill="#fff" stroke="#1a1a1a" stroke-width="0.9"/><circle cx="80.6" cy="287" r="0.8" fill="#222"/><circle cx="83" cy="287" r="0.8" fill="#222"/><rect x="87.6" y="290.6" width="17.2" height="14.8" fill="#fff" stroke="#1a1a1a" stroke-width="1.1"/><rect x="87.6" y="291.5" width="17.2" height="0.8" fill="#555"/><rect x="91.8" y="293" width="8.6" height="8" fill="#3a3a3a"/><rect x="88.2" y="301" width="16" height="4.4" fill="#262626"/><rect x="45" y="311.1" width="60" height="1.3" fill="#666"/><rect x="45" y="314.6" width="60" height="1.5" fill="#777"/><rect x="45" y="317.4" width="60" height="1.3" fill="#1a1a1a"/><path d="M105.8,315.6 Q110.2,317.7 105.8,319.8" fill="none" stroke="#1a1a1a" stroke-width="1"/><rect x="104.4" y="262" width="1.8" height="74" fill="#1a1a1a"/><circle cx="51.6" cy="328.9" r="3.6" fill="none" stroke="#1a1a1a" stroke-width="1.15"/><circle cx="66.9" cy="328.9" r="3.6" fill="none" stroke="#1a1a1a" stroke-width="1.15"/><circle cx="82.1" cy="328.9" r="3.6" fill="none" stroke="#1a1a1a" stroke-width="1.15"/><circle cx="96.8" cy="328.9" r="3.6" fill="none" stroke="#1a1a1a" stroke-width="1.15"/>
<text transform="translate(43.5,613.9) scale(1.0185,1)" font-size="11" fill="#2b2b2b" stroke="#2b2b2b" stroke-width="0.12">H</text><text transform="translate(99.9,613.9) scale(1.1899,1)" font-size="11" fill="#2b2b2b" stroke="#2b2b2b" stroke-width="0.12">Auxiliary contact</text><text transform="translate(279.6,613.9) scale(1.0684,1)" font-size="11" fill="#2b2b2b" stroke="#2b2b2b" stroke-width="0.12">S2C-H6R</text><text transform="translate(99.9,626.4) scale(1.1701,1)" font-size="11" fill="#2b2b2b" stroke="#2b2b2b" stroke-width="0.12">(change-over contact)</text><text transform="translate(43.5,644.7) scale(1.0786,1)" font-size="11" fill="#2b2b2b" stroke="#2b2b2b" stroke-width="0.12">H-R</text><text transform="translate(99.9,644.7) scale(1.1899,1)" font-size="11" fill="#2b2b2b" stroke="#2b2b2b" stroke-width="0.12">Auxiliary contact</text><text transform="translate(279.6,644.7) scale(1.0889,1)" font-size="11" fill="#2b2b2b" stroke="#2b2b2b" stroke-width="0.12">S2C-H6-..R</text><text transform="translate(43.5,662.9) scale(1.1775,1)" font-size="11" fill="#2b2b2b" stroke="#2b2b2b" stroke-width="0.12">S/H</text><text transform="translate(99.9,662.9) scale(1.1966,1)" font-size="11" fill="#2b2b2b" stroke="#2b2b2b" stroke-width="0.12">Signal/Auxiliary contact</text><text transform="translate(279.6,662.9) scale(1.0980,1)" font-size="11" fill="#2b2b2b" stroke="#2b2b2b" stroke-width="0.12">S2C-S/H6R</text><text transform="translate(99.9,676.6) scale(1.1631,1)" font-size="11" fill="#2b2b2b" stroke="#2b2b2b" stroke-width="0.12">used as auxiliary contact</text><text transform="translate(43.5,695.0) scale(1.0098,1)" font-size="11" fill="#2b2b2b" stroke="#2b2b2b" stroke-width="0.12">ST</text><text transform="translate(99.9,695.0) scale(1.2146,1)" font-size="11" fill="#2b2b2b" stroke="#2b2b2b" stroke-width="0.12">Shunt trip</text><text transform="translate(279.6,695.0) scale(1.0567,1)" font-size="11" fill="#2b2b2b" stroke="#2b2b2b" stroke-width="0.12">S2C-A..</text><text transform="translate(43.5,712.8) scale(1.0069,1)" font-size="11" fill="#2b2b2b" stroke="#2b2b2b" stroke-width="0.12">UR</text><text transform="translate(99.9,712.8) scale(1.1542,1)" font-size="11" fill="#2b2b2b" stroke="#2b2b2b" stroke-width="0.12">Undervoltage release</text><text transform="translate(279.6,712.8) scale(1.0559,1)" font-size="11" fill="#2b2b2b" stroke="#2b2b2b" stroke-width="0.12">S2C-UA</text><text transform="translate(43.5,730.6) scale(0.9697,1)" font-size="11" fill="#2b2b2b" stroke="#2b2b2b" stroke-width="0.12">OR</text><text transform="translate(99.9,730.6) scale(1.1518,1)" font-size="11" fill="#2b2b2b" stroke="#2b2b2b" stroke-width="0.12">Overvoltage release</text><text transform="translate(279.6,730.6) scale(1.0518,1)" font-size="11" fill="#2b2b2b" stroke="#2b2b2b" stroke-width="0.12">S2C-OVP</text><text transform="translate(424.8,613.9) scale(1.1729,1)" font-size="11" fill="#2b2b2b" stroke="#2b2b2b" stroke-width="0.12">H-L</text><text transform="translate(481.2,613.9) scale(1.1948,1)" font-size="11" fill="#2b2b2b" stroke="#2b2b2b" stroke-width="0.12">Auxiliary contact</text><text transform="translate(707.7,613.9) scale(1.0829,1)" font-size="11" fill="#2b2b2b" stroke="#2b2b2b" stroke-width="0.12">S2C-H..L</text><text transform="translate(424.8,631.6) scale(1.1063,1)" font-size="11" fill="#2b2b2b" stroke="#2b2b2b" stroke-width="0.12">H-BF</text><text transform="translate(481.2,631.6) scale(1.2382,1)" font-size="11" fill="#2b2b2b" stroke="#2b2b2b" stroke-width="0.12">Auxiliary contact for bottom fitting</text><text transform="translate(707.7,631.6) scale(1.0674,1)" font-size="11" fill="#2b2b2b" stroke="#2b2b2b" stroke-width="0.12">S2C-H01</text><text transform="translate(481.2,644.6) scale(1.1144,1)" font-size="11" fill="#2b2b2b" stroke="#2b2b2b" stroke-width="0.12">(1 per pole)</text><text transform="translate(707.7,644.6) scale(1.0674,1)" font-size="11" fill="#2b2b2b" stroke="#2b2b2b" stroke-width="0.12">S2C-H10</text><text transform="translate(424.8,662.5) scale(1.0145,1)" font-size="11" fill="#2b2b2b" stroke="#2b2b2b" stroke-width="0.12">BP</text><text transform="translate(481.2,662.5) scale(1.1756,1)" font-size="11" fill="#2b2b2b" stroke="#2b2b2b" stroke-width="0.12">Mechanical tripping device</text><text transform="translate(707.7,662.5) scale(1.0340,1)" font-size="11" fill="#2b2b2b" stroke="#2b2b2b" stroke-width="0.12">S2C-BP</text><text transform="translate(424.8,680.9) scale(1.0496,1)" font-size="11" fill="#2b2b2b" stroke="#2b2b2b" stroke-width="0.12">NT</text><text transform="translate(481.2,680.9) scale(1.1944,1)" font-size="11" fill="#2b2b2b" stroke="#2b2b2b" stroke-width="0.12">Neutral disconnector</text><text transform="translate(707.7,680.9) scale(1.0711,1)" font-size="11" fill="#2b2b2b" stroke="#2b2b2b" stroke-width="0.12">S2C-NT..</text><text transform="translate(424.8,699.8) scale(1.0939,1)" font-size="11" fill="#2b2b2b" stroke="#2b2b2b" stroke-width="0.12">MOD-S*</text><text transform="translate(481.2,699.8) scale(1.1956,1)" font-size="11" fill="#2b2b2b" stroke="#2b2b2b" stroke-width="0.12">Motor operating device</text><text transform="translate(707.7,699.8) scale(1.0528,1)" font-size="11" fill="#2b2b2b" stroke="#2b2b2b" stroke-width="0.12">S2C-CM</text><text transform="translate(424.8,717.7) scale(1.1128,1)" font-size="11" fill="#2b2b2b" stroke="#2b2b2b" stroke-width="0.12">DDA 200</text><text transform="translate(481.2,717.7) scale(1.1281,1)" font-size="11" fill="#2b2b2b" stroke="#2b2b2b" stroke-width="0.12">RCD-block</text><text transform="translate(707.7,717.7) scale(1.0742,1)" font-size="11" fill="#2b2b2b" stroke="#2b2b2b" stroke-width="0.12">DDA 20..</text><text transform="translate(424.8,741.4) scale(1.1236,1)" font-size="11" fill="#2b2b2b" stroke="#2b2b2b" stroke-width="0.12">* In case of using S300 with DDA 200, MOD-S</text><text transform="translate(424.8,754.9) scale(1.1763,1)" font-size="11" fill="#2b2b2b" stroke="#2b2b2b" stroke-width="0.12">does not operate in case of earth-voltage fault</text>
</svg>
</body></html>
